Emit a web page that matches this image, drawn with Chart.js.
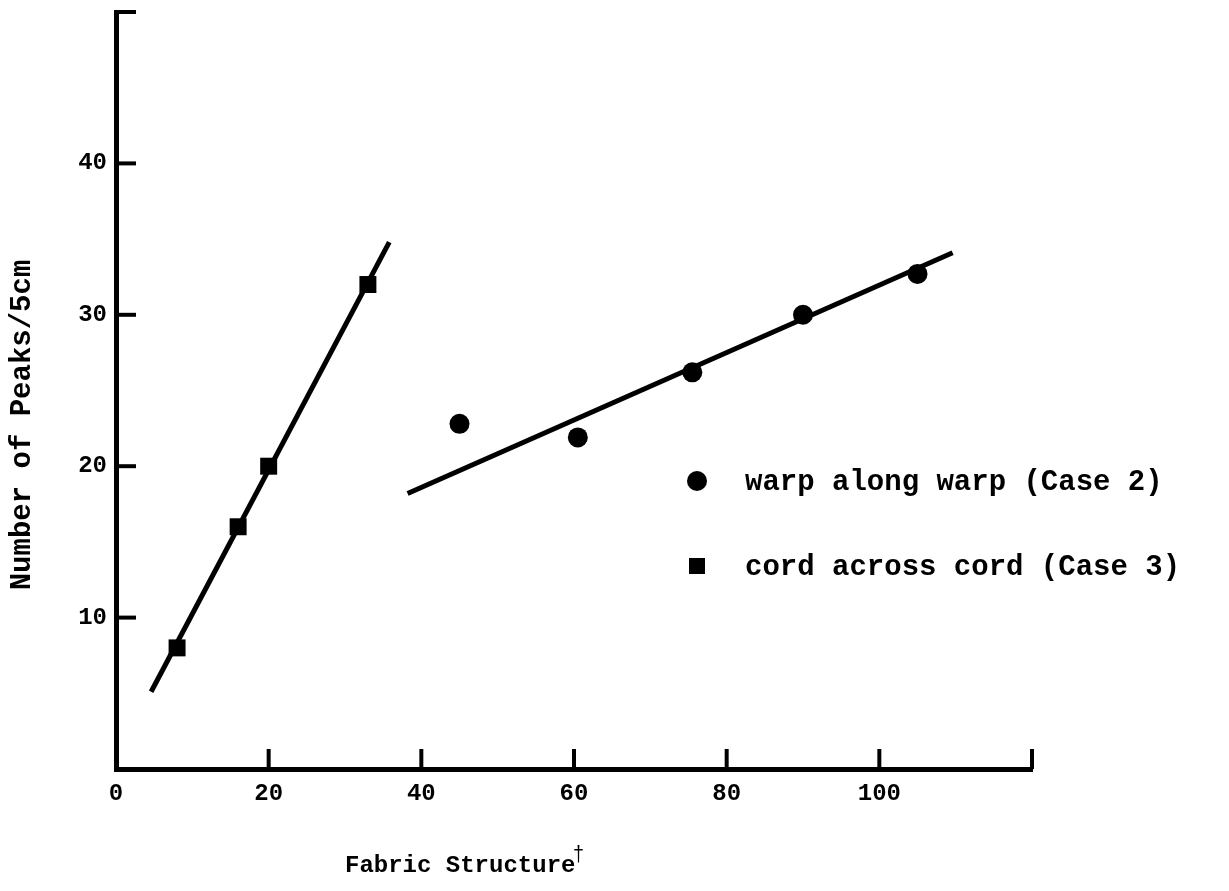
<!DOCTYPE html>
<html>
<head>
<meta charset="utf-8">
<script src="https://cdn.jsdelivr.net/npm/chart.js@4.4.0/dist/chart.umd.min.js"></script>
<style>
  html, body { margin: 0; padding: 0; background: #fff; }
  #wrap { position: relative; width: 1229px; height: 891px; }
</style>
</head>
<body>
<div id="wrap"><canvas id="chart"></canvas></div>
<script>
const warpX = [45, 60.5, 75.5, 90, 105];
const warpY = [22.8, 21.9, 26.2, 30.0, 32.7];
const cordX = [8, 16, 20, 33];
const cordY = [8, 16, 20, 32];

// fitted lines, two end points each
const warpFitX = [38.2, 109.6];
const warpFitY = [18.2, 34.1];
const cordFitX = [4.6, 35.8];
const cordFitY = [5.1, 34.8];

const xTicks = [0, 20, 40, 60, 80, 100, 120];
const xTickLabels = ["0", "20", "40", "60", "80", "100", ""];
const yTicks = [0, 10, 20, 30, 40, 50];
const yTickLabels = ["", "10", "20", "30", "40", ""];

const seriesLabels = ["warp along warp (Case 2)", "cord across cord (Case 3)"];
const xTitle = "Fabric Structure";
const yTitle = "Number of Peaks/5cm";

const FONT = "'Liberation Mono', 'DejaVu Sans Mono', monospace";

const toPoints = (xs, ys) => xs.map((x, i) => ({ x: x, y: ys[i] }));

// inward tick marks, axis titles and the legend block
const decor = {
  id: "decor",
  afterDraw(chart) {
    const { ctx, chartArea, scales } = chart;
    ctx.save();
    ctx.strokeStyle = "#000";
    ctx.fillStyle = "#000";
    ctx.lineWidth = 4;

    xTicks.slice(1).forEach((v) => {
      const px = scales.x.getPixelForValue(v);
      ctx.beginPath();
      ctx.moveTo(px, chartArea.bottom);
      ctx.lineTo(px, chartArea.bottom - 20);
      ctx.stroke();
    });
    yTicks.slice(1).forEach((v) => {
      const py = scales.y.getPixelForValue(v);
      ctx.beginPath();
      ctx.moveTo(chartArea.left, py);
      ctx.lineTo(chartArea.left + 20, py);
      ctx.stroke();
    });

    // x title with dagger
    ctx.textBaseline = "middle";
    ctx.textAlign = "left";
    ctx.font = "bold 24px " + FONT;
    ctx.fillText(xTitle, 345, 866);
    const w = ctx.measureText(xTitle).width;
    ctx.font = "20px " + FONT;
    ctx.fillText("\u2020", 345 + w - 3, 855);

    // y title
    ctx.save();
    ctx.translate(23, 425);
    ctx.rotate(-Math.PI / 2);
    ctx.textAlign = "center";
    ctx.font = "bold 29px " + FONT;
    ctx.fillText(yTitle, 0, 0);
    ctx.restore();

    // legend
    ctx.font = "bold 29px " + FONT;
    ctx.textAlign = "left";
    ctx.beginPath();
    ctx.arc(697, 481, 10, 0, Math.PI * 2);
    ctx.fill();
    ctx.fillText(seriesLabels[0], 745, 483);
    ctx.fillRect(689, 558, 16, 16);
    ctx.fillText(seriesLabels[1], 745, 568);

    ctx.restore();
  },
};

new Chart(document.getElementById("chart"), {
  type: "scatter",
  data: {
    datasets: [
      {
        label: seriesLabels[0],
        data: toPoints(warpX, warpY),
        pointStyle: "circle",
        pointRadius: 10,
        backgroundColor: "#000",
        borderColor: "#000",
        borderWidth: 0,
      },
      {
        label: seriesLabels[1],
        data: toPoints(cordX, cordY),
        pointStyle: "rect",
        pointRadius: 12,
        backgroundColor: "#000",
        borderColor: "#000",
        borderWidth: 0,
      },
      {
        label: "fit 2",
        data: toPoints(warpFitX, warpFitY),
        showLine: true,
        pointRadius: 0,
        borderColor: "#000",
        borderWidth: 5,
      },
      {
        label: "fit 3",
        data: toPoints(cordFitX, cordFitY),
        showLine: true,
        pointRadius: 0,
        borderColor: "#000",
        borderWidth: 5,
      },
    ],
  },
  options: {
    responsive: true,
    maintainAspectRatio: false,
    animation: false,
    layout: { padding: { top: 10, right: 197, bottom: 0, left: 0 } },
    plugins: {
      legend: { display: false },
      tooltip: { enabled: false },
    },
    scales: {
      x: {
        type: "linear",
        min: 0,
        max: 120,
        afterBuildTicks: (scale) => {
          scale.ticks = xTicks.map((v) => ({ value: v }));
        },
        afterFit: (scale) => {
          scale.height = 122;
        },
        grid: { display: false, drawTicks: false },
        border: { display: true, color: "#000", width: 5 },
        ticks: {
          padding: 11,
          color: "#000",
          maxRotation: 0,
          font: { family: FONT, size: 24, weight: "bold" },
          callback: (v) => xTickLabels[xTicks.indexOf(v)],
        },
      },
      y: {
        type: "linear",
        min: 0,
        max: 50,
        afterBuildTicks: (scale) => {
          scale.ticks = yTicks.map((v) => ({ value: v }));
        },
        afterFit: (scale) => {
          scale.width = 116;
          scale.paddingTop = 0;
          scale.paddingBottom = 0;
        },
        grid: { display: false, drawTicks: false },
        border: { display: true, color: "#000", width: 5 },
        ticks: {
          padding: 9,
          color: "#000",
          font: { family: FONT, size: 24, weight: "bold" },
          callback: (v) => yTickLabels[yTicks.indexOf(v)],
        },
      },
    },
  },
  plugins: [decor],
});
</script>
</body>
</html>
